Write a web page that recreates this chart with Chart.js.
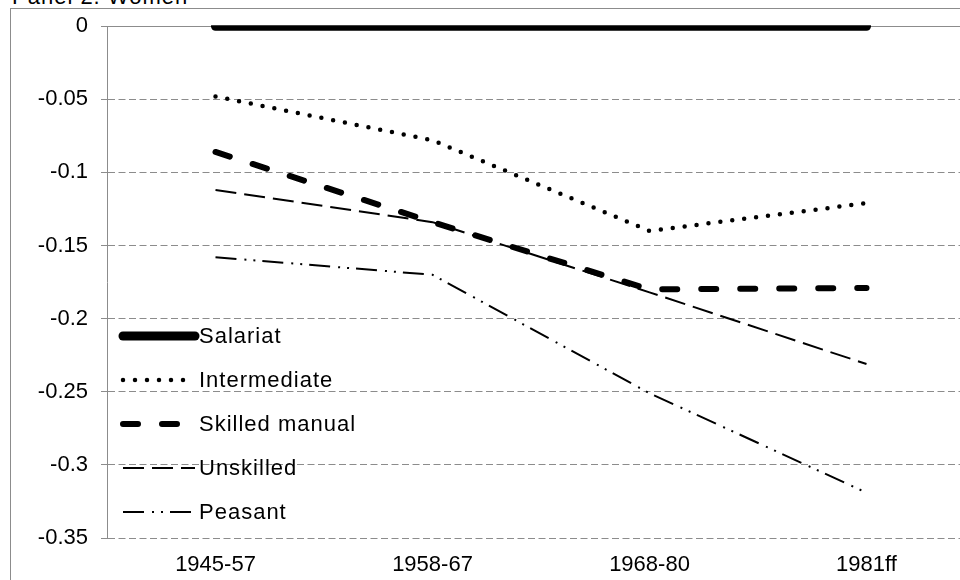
<!DOCTYPE html>
<html>
<head>
<meta charset="utf-8">
<script src="https://cdn.jsdelivr.net/npm/chart.js@4/dist/chart.umd.min.js"></script>
<style>
  html, body { margin: 0; padding: 0; background: #fff; overflow: hidden; }
  #wrap { position: relative; width: 960px; height: 580px; overflow: hidden; }
  #frame { position: absolute; left: 10px; top: 8px; width: 1200px; height: 800px;
           border-left: 1px solid #8c8c8c; border-top: 1px solid #8c8c8c; }
  #title { position: absolute; left: 12px; top: -16px; line-height: 26px; letter-spacing: 1px;
           font: 22px "Liberation Sans", Arial, sans-serif; color: #000; white-space: nowrap; }
  #chart { position: absolute; left: 0; top: 0; }
</style>
</head>
<body>
<div id="wrap">
  <div id="frame"></div>
  <div id="title">Panel 2. Women</div>
  <canvas id="chart" width="990" height="600"></canvas>
</div>
<script>
const periods = ["1945-57", "1958-67", "1968-80", "1981ff"];
const salariat = [0, 0, 0, 0];
const intermediate = [-0.048, -0.078, -0.140, -0.121];
const skilledManual = [-0.086, -0.134, -0.180, -0.179];
const unskilled = [-0.112, -0.134, -0.182, -0.231];
const peasant = [-0.158, -0.170, -0.251, -0.319];
const yMin = -0.35, yMax = 0, yStep = 0.05;

const FONT = '"Liberation Sans", Arial, sans-serif';
const FONT_SIZE = 22;
const GRID = "#8c8c8c";

// legend drawn inside the plot, lower left, like the original
const innerLegend = {
    id: "innerLegend",
    afterDatasetsDraw(chart) {
        const { ctx, chartArea } = chart;
        const x0 = chartArea.left + 16, x1 = chartArea.left + 88;
        ctx.save();
        ctx.font = FONT_SIZE + "px " + FONT;
        ctx.letterSpacing = "1px"; // legend text runs a little wider in the original
        ctx.textBaseline = "middle";
        ctx.fillStyle = "#000";
        chart.data.datasets.forEach((ds, i) => {
            const y = 336 + i * 44;
            ctx.save();
            ctx.strokeStyle = ds.borderColor;
            ctx.lineWidth = ds.borderWidth;
            ctx.lineCap = ds.borderCapStyle || "butt";
            ctx.setLineDash(ds.borderDash || []);
            ctx.beginPath();
            ctx.moveTo(x0, y);
            ctx.lineTo(x1, y);
            ctx.stroke();
            ctx.restore();
            ctx.fillText(ds.label, x1 + 4, y + 1);
        });
        ctx.restore();
    },
};

const ctx = document.getElementById("chart").getContext("2d");
const chart = new Chart(ctx, {
    type: "line",
    data: {
        labels: periods,
        datasets: [
            { label: "Salariat", data: salariat, borderColor: "#000", borderWidth: 9,
              borderCapStyle: "round", clip: 1 },
            { label: "Intermediate", data: intermediate, borderColor: "#000", borderWidth: 4.5,
              borderCapStyle: "round", borderDash: [0, 12] },
            { label: "Skilled manual", data: skilledManual, borderColor: "#000", borderWidth: 6,
              borderCapStyle: "round", borderDash: [15, 24] },
            { label: "Unskilled", data: unskilled, borderColor: "#000", borderWidth: 2,
              borderDash: [21, 8] },
            { label: "Peasant", data: peasant, borderColor: "#000", borderWidth: 2,
              borderDash: [21, 8, 2, 7, 2, 7] },
        ],
    },
    options: {
        responsive: false,
        animation: false,
        devicePixelRatio: 1,
        layout: { padding: { left: 0, right: 15, top: 22, bottom: 0 } },
        elements: {
            point: { radius: 0, hoverRadius: 0 },
            line: { tension: 0, fill: false },
        },
        plugins: {
            legend: { display: false },
            title: { display: false },
            tooltip: { enabled: false },
        },
        scales: {
            x: {
                type: "category",
                position: "bottom",
                offset: true,
                grid: { display: false, drawTicks: false },
                border: { display: false },
                ticks: { color: "#000", font: { family: FONT, size: FONT_SIZE }, padding: 14, maxRotation: 0 },
                afterFit: (scale) => { scale.height = 62; },
            },
            xTop: {
                type: "category",
                position: "top",
                offset: true,
                labels: periods,
                grid: { display: false, drawTicks: false },
                border: { display: true, color: GRID, width: 1 },
                ticks: { display: false },
                afterFit: (scale) => { scale.height = 0; },
            },
            y: {
                min: yMin,
                max: yMax,
                ticks: {
                    stepSize: yStep,
                    color: "#000",
                    font: { family: FONT, size: FONT_SIZE },
                    padding: 13,
                    callback: (v) => String(+Number(v).toFixed(2)),
                },
                grid: { color: GRID, lineWidth: 1, tickLength: 6, tickColor: GRID },
                border: { display: true, color: GRID, width: 1, dash: [7, 3.5] },
                afterFit: (scale) => { scale.width = 107; },
            },
        },
    },
    plugins: [innerLegend],
});
</script>
</body>
</html>
